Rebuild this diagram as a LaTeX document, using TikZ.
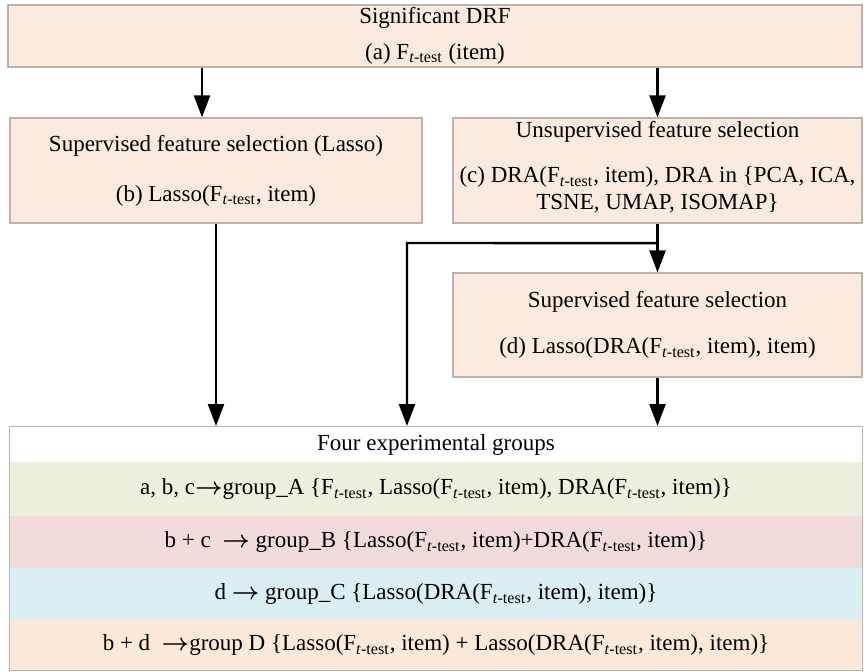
\documentclass[tikz,border=0pt]{standalone}
\usepackage{fontspec}
\setmainfont{Liberation Serif}
\usetikzlibrary{fit,calc,matrix,positioning,arrows.meta}

\definecolor{boxpeach}{HTML}{FBEADF}
\definecolor{grpA}{HTML}{EBF1DE}
\definecolor{grpB}{HTML}{F2DCDB}
\definecolor{grpC}{HTML}{DBEEF3}
\definecolor{grpD}{HTML}{FDE9D9}
\definecolor{edge}{HTML}{BDB3AC}

\newcommand{\ftest}{F\textsubscript{\textit{t}-test}}
\newcommand{\rarr}{{\boldmath$\rightarrow$}}

\tikzset{
  stage/.style={draw=edge, line width=0.6pt, fill=boxpeach, align=center, inner sep=0pt,
    font=\fontsize{11.5}{13.2}\selectfont},
  flow/.style={-{Triangle[length=11pt,width=8pt]}, line width=1.2pt},
}

\begin{document}
\begin{tikzpicture}[x=0.5pt,y=-0.5pt]
        \useasboundingbox (0,0) rectangle (868,671);
        \node[stage, minimum width=427pt, minimum height=31pt] (drf) at (435,36)
            {Significant DRF\\[4.5pt](a) \ftest{} (item)};
        \node[stage, minimum width=206pt, minimum height=52.5pt] (lasso) at (216,170.5)
            {Supervised feature selection (Lasso)\\[11.8pt](b) Lasso(\ftest, item)};
        \node[stage, minimum width=204.5pt, minimum height=52.5pt] (unsup) at (657.5,170.5)
            {Unsupervised feature selection\\[9.5pt](c) DRA(\ftest, item), DRA in \{PCA, ICA,\\TSNE, UMAP, ISOMAP\}\\[-8pt]\mbox{}};
        \node[stage, minimum width=204.5pt, minimum height=52pt] (supd) at (657.5,325)
            {Supervised feature selection\\[9.8pt](d) Lasso(DRA(\ftest, item), item)};
        \matrix(grp) [matrix of nodes, row sep=0pt, inner sep=0pt,
        nodes={minimum width=426pt, inner sep=0pt, anchor=center, font=\fontsize{11.5}{13.2}\selectfont},
        ampersand replacement=\&] at (436,548.5) {
            |[minimum height=17.5pt]| Four experimental groups \\
            |[minimum height=27pt, fill=grpA]| a, b, c\rarr group\_A \{\ftest, Lasso(\ftest, item), DRA(\ftest, item)\} \\
            |[minimum height=26pt, fill=grpB]| b + c \ \rarr\ group\_B \{Lasso(\ftest, item)+DRA(\ftest, item)\} \\
            |[minimum height=26pt, fill=grpC]| d \rarr\ group\_C \{Lasso(DRA(\ftest, item), item)\} \\
            |[minimum height=25pt, fill=grpD]| b + d \ \rarr group D \{Lasso(\ftest, item) + Lasso(DRA(\ftest, item), item)\} \\
        };
        \node[fit=(grp), draw=edge, line width=0.6pt, inner sep=0pt] (groups) {};
        % connectors
        \coordinate (inb) at (202,0);
        \coordinate (split) at ($(unsup.south)!0.4!(supd.north)$);
        \coordinate (bend) at (407,243);
        \draw[flow] (drf.south -| inb) -- (lasso.north -| inb);
        \draw[flow] (drf.south -| unsup.north) -- (unsup.north);
        \draw[flow] (unsup.south) -- (supd.north);
        \draw[flow] (split) -- (bend) -- (bend |- groups.north);
        \draw[flow] (lasso.south) -- (lasso.south |- groups.north);
        \draw[flow] (supd.south) -- (supd.south |- groups.north);
\end{tikzpicture}
\end{document}
